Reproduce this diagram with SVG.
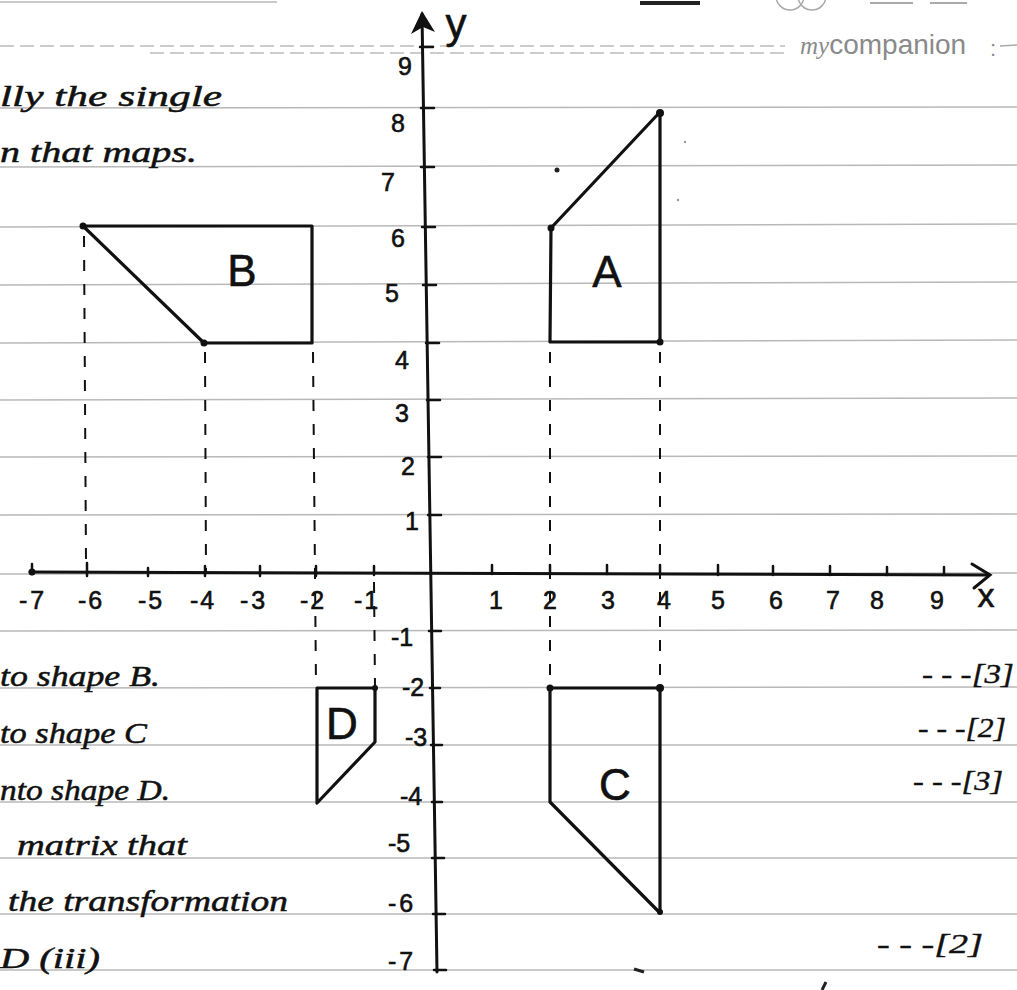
<svg xmlns="http://www.w3.org/2000/svg" width="1017" height="990" viewBox="0 0 1017 990">
<style>
.rule{stroke:#b8b8b8;stroke-width:1.5;fill:none}
.ruled{stroke:#bcbcbc;stroke-width:1.5;fill:none;stroke-dasharray:14 6}
.ax{stroke:#111;stroke-width:3;fill:none;stroke-linecap:round}
.tk{stroke:#111;stroke-width:2.5;fill:none;stroke-linecap:round}
.shape{stroke:#111;stroke-width:3.2;fill:none;stroke-linejoin:round;stroke-linecap:round}
.proj{stroke:#111;stroke-width:2;fill:none;stroke-dasharray:11 13}
.num{font-family:"Liberation Sans",Arial,sans-serif;font-size:25px;fill:#111;stroke:#111;stroke-width:0.6;text-anchor:middle}
.lbl{font-family:"Liberation Sans",Arial,sans-serif;font-size:44px;fill:#111;stroke:#111;stroke-width:0.6;text-anchor:middle}
.hand{font-family:"Liberation Serif","Times New Roman",serif;font-style:italic;font-size:30px;fill:#111;stroke:#111;stroke-width:0.5}
.mark{font-family:"Liberation Serif","Times New Roman",serif;font-style:italic;font-size:27px;fill:#111;stroke:#111;stroke-width:0.4}
.logo{font-family:"Liberation Sans",Arial,sans-serif;fill:#8a8a8a}
</style>
<rect x="0" y="0" width="1017" height="990" fill="#ffffff"/>

<g id="paper">
  <line class="rule" x1="0" y1="2" x2="277" y2="2" stroke="#d0d0d0"/>
  <line x1="640" y1="3" x2="700" y2="3" stroke="#222" stroke-width="4"/>
  <circle cx="790" cy="-4" r="14" fill="none" stroke="#aaa" stroke-width="1.5"/>
  <circle cx="812" cy="-4" r="14" fill="none" stroke="#aaa" stroke-width="1.5"/>
  <line x1="870" y1="3" x2="913" y2="3" stroke="#aaa" stroke-width="2"/>
  <line x1="930" y1="3" x2="967" y2="3" stroke="#aaa" stroke-width="2"/>
  <line class="ruled" x1="0" y1="46" x2="785" y2="46"/>
  <line class="ruled" x1="150" y1="53" x2="785" y2="53"/>
  <text class="logo" x="800" y="54" font-size="28"><tspan font-family="Liberation Serif,serif" font-style="italic" font-size="25">my</tspan>companion</text>
  <text class="logo" x="990" y="56" font-size="22">:</text>
  <line x1="1000" y1="46" x2="1017" y2="45" stroke="#aaa" stroke-width="1.5"/>
  <line class="rule" x1="0" y1="108" x2="1017" y2="107"/>
  <line class="rule" x1="0" y1="167" x2="1017" y2="165"/>
  <line class="rule" x1="0" y1="227" x2="1017" y2="224"/>
  <line class="rule" x1="0" y1="285" x2="1017" y2="282"/>
  <line class="rule" x1="0" y1="343" x2="1017" y2="340"/>
  <line class="rule" x1="0" y1="400" x2="1017" y2="398"/>
  <line class="rule" x1="0" y1="457" x2="1017" y2="456"/>
  <line class="rule" x1="0" y1="515" x2="1017" y2="514"/>
  <line class="rule" x1="0" y1="574" x2="1017" y2="573"/>
  <line class="rule" x1="0" y1="631" x2="1017" y2="630"/>
  <line class="rule" x1="0" y1="688" x2="1017" y2="687"/>
  <line class="rule" x1="0" y1="745" x2="1017" y2="745"/>
  <line class="rule" x1="0" y1="802" x2="1017" y2="802"/>
  <line class="rule" x1="0" y1="858" x2="1017" y2="858"/>
  <line class="rule" x1="0" y1="914" x2="1017" y2="914"/>
  <line class="rule" x1="0" y1="970" x2="1017" y2="970"/>
  <line x1="634" y1="969" x2="644" y2="972" stroke="#222" stroke-width="3"/>
  <line x1="822" y1="990" x2="826" y2="982" stroke="#222" stroke-width="3"/>
  <circle cx="557" cy="170" r="2.5" fill="#222"/>
  <circle cx="685" cy="142" r="1.2" fill="#999"/>
  <circle cx="678" cy="200" r="1.2" fill="#999"/>
</g>

<g id="axes">
  <line class="ax" x1="30" y1="572" x2="989" y2="575"/>
  <polyline class="ax" points="972,564 990,575 974,588"/>
  <circle cx="32" cy="572" r="3.5" fill="#111"/>
  <line class="ax" x1="422" y1="14" x2="437" y2="972"/>
  <polygon points="422,11 411,34 423,27 435,32" fill="#111"/>
  <g class="tk">
    <path d="M32,564V574 M87,563V576 M148,568V576 M205,566V576 M260,566V576 M316,566V576 M374,566V575 M492,565V574 M550,565V574 M607,565V574 M660,565V574 M718,565V575 M773,566V575 M830,566V575 M887,567V575 M944,567V575"/>
    <path d="M420,47H433 M421,108H434 M421,167H434 M422,227H435 M423,285H436 M426,343H439 M427,400H440 M428,457H441 M428,515H441 M429,631H441 M430,688H440 M431,745H442 M432,802H442 M432,858H444 M433,914H445 M434,970H446"/>
  </g>
  <text x="456" y="38" font-family="Liberation Sans,Arial,sans-serif" font-size="42" text-anchor="middle" fill="#111" stroke="#111" stroke-width="0.6">y</text>
  <text x="986" y="607" font-family="Liberation Sans,Arial,sans-serif" font-size="34" text-anchor="middle" fill="#111" stroke="#111" stroke-width="0.6">x</text>
  <g id="x-labels">
    <text class="num" x="33" y="609" letter-spacing="3">-7</text>
    <text class="num" x="91" y="609" letter-spacing="2">-6</text>
    <text class="num" x="151" y="609" letter-spacing="2">-5</text>
    <text class="num" x="203" y="609" letter-spacing="2">-4</text>
    <text class="num" x="254" y="609" letter-spacing="3">-3</text>
    <text class="num" x="313" y="609" letter-spacing="2">-2</text>
    <text class="num" x="367" y="609" letter-spacing="2">-1</text>
    <text class="num" x="496" y="609">1</text>
    <text class="num" x="550" y="609">2</text>
    <text class="num" x="608" y="609">3</text>
    <text class="num" x="664" y="609">4</text>
    <text class="num" x="718" y="609">5</text>
    <text class="num" x="776" y="609">6</text>
    <text class="num" x="833" y="609">7</text>
    <text class="num" x="877" y="609">8</text>
    <text class="num" x="937" y="609">9</text>
  </g>
  <g id="y-labels">
    <text class="num" x="405" y="75" font-size="31">9</text>
    <text class="num" x="398" y="132">8</text>
    <text class="num" x="388" y="191">7</text>
    <text class="num" x="398" y="247">6</text>
    <text class="num" x="392" y="302">5</text>
    <text class="num" x="402" y="369">4</text>
    <text class="num" x="402" y="422">3</text>
    <text class="num" x="408" y="475">2</text>
    <text class="num" x="412" y="530">1</text>
    <text class="num" x="402" y="646">-1</text>
    <text class="num" x="413" y="696">-2</text>
    <text class="num" x="416" y="746">-3</text>
    <text class="num" x="411" y="805">-4</text>
    <text class="num" x="399" y="852">-5</text>
    <text class="num" x="402" y="912" letter-spacing="3">-6</text>
    <text class="num" x="402" y="970" letter-spacing="3">-7</text>
  </g>
</g>

<g id="connectors">
  <line class="proj" x1="84" y1="236" x2="86" y2="562"/>
  <line class="proj" x1="205" y1="352" x2="206" y2="572"/>
  <line class="proj" x1="313" y1="352" x2="316" y2="686"/>
  <line class="proj" x1="374" y1="582" x2="375" y2="686"/>
  <line class="proj" x1="550" y1="352" x2="550" y2="686"/>
  <line class="proj" x1="660" y1="352" x2="660" y2="686"/>
</g>

<g id="shape-A">
  <polygon class="shape" points="551,228 660,112 660,342 550,342"/>
  <circle cx="551" cy="228" r="3.5" fill="#111"/>
  <circle cx="660" cy="113" r="4" fill="#111"/>
  <circle cx="660" cy="342" r="3.5" fill="#111"/>
  <text class="lbl" x="607" y="287">A</text>
</g>

<g id="shape-B">
  <polygon class="shape" points="83,226 312,226 312,343 204,343"/>
  <circle cx="83" cy="226" r="3.5" fill="#111"/>
  <circle cx="204" cy="343" r="3.5" fill="#111"/>
  <text class="lbl" x="242" y="286">B</text>
</g>

<g id="shape-C">
  <polygon class="shape" points="550,688 660,688 660,913 550,802"/>
  <circle cx="550" cy="688" r="3.5" fill="#111"/>
  <circle cx="660" cy="688" r="4" fill="#111"/>
  <circle cx="660" cy="912" r="3" fill="#111"/>
  <text class="lbl" x="615" y="800">C</text>
</g>

<g id="shape-D">
  <polygon class="shape" points="317,688 375,688 375,742 317,803"/>
  <circle cx="375" cy="688" r="3" fill="#111"/>
  <text class="lbl" x="342" y="739" font-size="42">D</text>
</g>

<g id="text">
  <text class="hand" x="0" y="106" textLength="222" lengthAdjust="spacingAndGlyphs" font-size="34">lly the single</text>
  <text class="hand" x="0" y="162" textLength="197" lengthAdjust="spacingAndGlyphs" font-size="32">n that maps.</text>
  <text class="hand" x="0" y="686" textLength="160" lengthAdjust="spacingAndGlyphs">to shape B.</text>
  <text class="hand" x="0" y="743" textLength="147" lengthAdjust="spacingAndGlyphs">to shape C</text>
  <text class="hand" x="0" y="800" textLength="170" lengthAdjust="spacingAndGlyphs">nto shape D.</text>
  <text class="hand" x="17" y="855" textLength="170" lengthAdjust="spacingAndGlyphs">matrix that</text>
  <text class="hand" x="8" y="911" textLength="280" lengthAdjust="spacingAndGlyphs">the transformation</text>
  <text class="hand" x="0" y="968" textLength="100" lengthAdjust="spacingAndGlyphs">D (iii)</text>
  <text class="mark" x="922" y="683" textLength="92" lengthAdjust="spacingAndGlyphs">- - -[3]</text>
  <text class="mark" x="918" y="737" textLength="88" lengthAdjust="spacingAndGlyphs">- - -[2]</text>
  <text class="mark" x="913" y="790" textLength="90" lengthAdjust="spacingAndGlyphs">- - -[3]</text>
  <text class="mark" x="877" y="953" textLength="106" lengthAdjust="spacingAndGlyphs">- - -[2]</text>
</g>
</svg>
